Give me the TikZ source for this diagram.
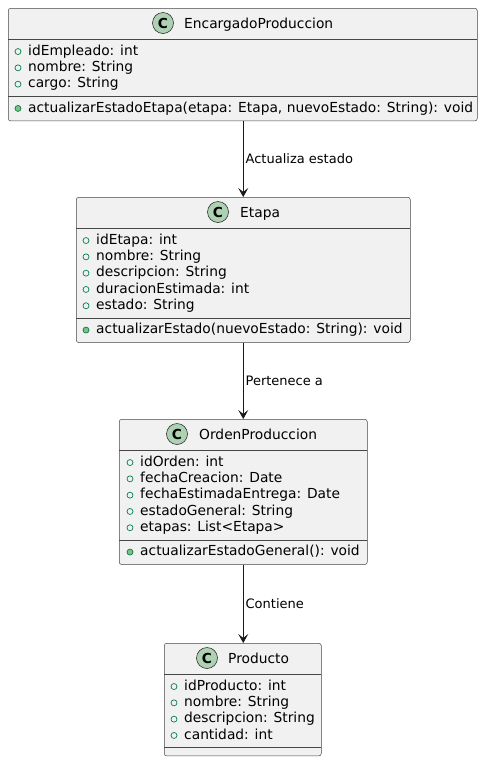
\documentclass[tikz,border=0pt]{standalone}
\usepackage{fontspec}
\setmainfont{DejaVu Sans}
\usetikzlibrary{arrows.meta, positioning}

\definecolor{umlline}{HTML}{181818}
\definecolor{umlfill}{HTML}{F1F1F1}
\definecolor{spotgreen}{HTML}{ADD1B2}
\definecolor{visgreen}{HTML}{038048}
\definecolor{visfill}{HTML}{84BE84}

\tikzset{
    classbox/.style={draw=umlline!80, fill=umlfill, rounded corners=2.5pt, line width=0.5pt, anchor=north west, inner sep=0pt},
    spot/.style={circle, draw=umlline, fill=spotgreen, line width=0.5pt, minimum size=21pt, inner sep=0pt, font=\fontsize{13.8}{14}\selectfont\bfseries},
    cname/.style={anchor=base west, inner sep=0pt, font=\fontsize{13.8}{14}\selectfont},
    member/.style={anchor=base west, inner sep=0pt, font=\fontsize{13.8}{14}\selectfont},
    pubattr/.style={circle, draw=visgreen, line width=0.7pt, minimum size=6pt, inner sep=0pt},
    pubmeth/.style={pubattr, fill=visfill},
    sep/.style={draw=umlline!80, line width=0.5pt},
    assoc/.style={draw=umlline, line width=0.8pt, -{Stealth[length=9pt, width=10pt, inset=4pt]}},
    asslabel/.style={right, inner sep=2pt, font=\fontsize{13}{13}\selectfont}
}

\begin{document}
\begin{tikzpicture}[x=1pt, y=-1pt]
    \useasboundingbox (0,0) rectangle (485,761);

    % EncargadoProduccion
    \node[classbox, minimum width=469pt, minimum height=112.7pt] (encargado) at (8,8) {};
    \node[spot] (encargado-c) at (163,23) {C};
    \node[cname] (encargado-n) at (184,28.5) {EncargadoProduccion};
    \draw[sep] (8,39.5) -- (477,39.5);
    \draw[sep] (8,96.4) -- (477,96.4);
    \foreach \t [count=\i from 0] in {idEmpleado: int, nombre: String, cargo: String} {
        \node[pubattr] (encargado-v\i) at (18,{51.55+16.3*\i}) {};
        \node[member] (encargado-a\i) at (28,{55.35+16.3*\i}) {\t};
    }
    \node[pubmeth] (encargado-mv) at (18,108.45) {};
    \node[member] (encargado-m) at (28,112.25) {actualizarEstadoEtapa(etapa: Etapa, nuevoEstado: String): void};

    % Etapa
    \node[classbox, minimum width=334pt, minimum height=145.3pt] (etapa) at (76,197) {};
    \node[spot] (etapa-c) at (218,212) {C};
    \node[cname] (etapa-n) at (240,217.5) {Etapa};
    \draw[sep] (76,228.5) -- (410,228.5);
    \draw[sep] (76,318) -- (410,318);
    \foreach \t [count=\i from 0] in {idEtapa: int, nombre: String, descripcion: String, duracionEstimada: int, estado: String} {
        \node[pubattr] (etapa-v\i) at (86,{240.55+16.3*\i}) {};
        \node[member] (etapa-a\i) at (96,{244.35+16.3*\i}) {\t};
    }
    \node[pubmeth] (etapa-mv) at (86,330.05) {};
    \node[member] (etapa-m) at (96,333.85) {actualizarEstado(nuevoEstado: String): void};

    % OrdenProduccion
    \node[classbox, minimum width=248pt, minimum height=145.3pt] (orden) at (119,419) {};
    \node[spot] (orden-c) at (177,434) {C};
    \node[cname] (orden-n) at (199,439.5) {OrdenProduccion};
    \draw[sep] (119,450.5) -- (367,450.5);
    \draw[sep] (119,540) -- (367,540);
    \foreach \t [count=\i from 0] in {idOrden: int, fechaCreacion: Date, fechaEstimadaEntrega: Date, estadoGeneral: String, etapas: List<Etapa>} {
        \node[pubattr] (orden-v\i) at (130,{462.55+16.3*\i}) {};
        \node[member] (orden-a\i) at (140,{466.35+16.3*\i}) {\t};
    }
    \node[pubmeth] (orden-mv) at (130,552.05) {};
    \node[member] (orden-m) at (140,555.85) {actualizarEstadoGeneral(): void};

    % Producto
    \node[classbox, minimum width=157pt, minimum height=112.7pt] (producto) at (164,643) {};
    \node[spot] (producto-c) at (207,658) {C};
    \node[cname] (producto-n) at (228,663.5) {Producto};
    \draw[sep] (164,674.5) -- (321,674.5);
    \draw[sep] (164,747.7) -- (321,747.7);
    \foreach \t [count=\i from 0] in {idProducto: int, nombre: String, descripcion: String, cantidad: int} {
        \node[pubattr] (producto-v\i) at (174,{686.55+16.3*\i}) {};
        \node[member] (producto-a\i) at (184,{690.35+16.3*\i}) {\t};
    }

    % Associations (all on the axis x = 243)
    \draw[assoc] (etapa.north |- encargado.south) -- (etapa.north) node[asslabel, midway] {Actualiza estado};
    \draw[assoc] (etapa.south) -- (orden.north) node[asslabel, midway] {Pertenece a};
    \draw[assoc] (orden.south) -- (orden.south |- producto.north) node[asslabel, midway] {Contiene};
\end{tikzpicture}
\end{document}
